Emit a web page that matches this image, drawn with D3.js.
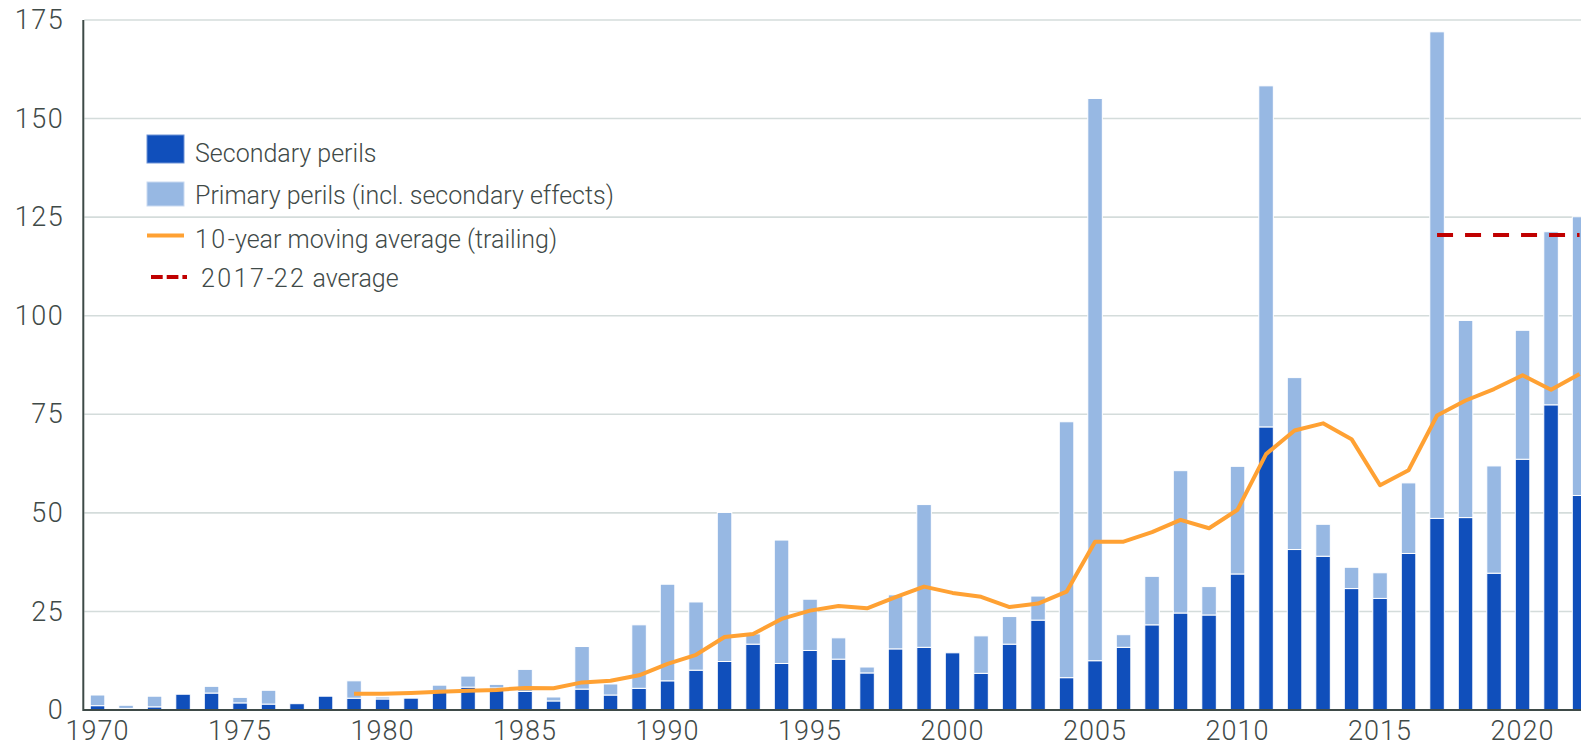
<!DOCTYPE html>
<html>
<head>
<meta charset="utf-8">
<script src="https://cdn.jsdelivr.net/npm/d3@7"></script>
<style>
  html, body { margin: 0; padding: 0; background: #ffffff; }
  svg { display: block; }
  text { font-family: Roboto, "Liberation Sans", Arial, sans-serif; font-weight: 300; fill: #3f4a48; }
</style>
</head>
<body>
<svg id="chart" width="1581" height="751"></svg>
<script>
// Insured losses by year (USD bn)
const years = d3.range(1970, 2023);

// Secondary perils (dark blue, bottom of each stack)
const secondary = [
  1.1, 0.4, 0.8, 4.0, 4.3, 1.8, 1.5, 1.6, 3.5, 3.0,
  2.8, 3.0, 4.7, 5.8, 5.6, 4.7, 2.3, 5.3, 3.8, 5.5,
  7.4, 10.1, 12.3, 16.7, 11.8, 15.1, 12.9, 9.4, 15.5, 15.9,
  14.5, 9.3, 16.7, 22.8, 8.2, 12.5, 15.9, 21.6, 24.6, 24.1,
  34.5, 71.8, 40.7, 39.0, 30.8, 28.3, 39.7, 48.6, 48.8, 34.7,
  63.6, 77.4, 54.4
];

// Primary perils incl. secondary effects (light blue, stacked on top)
const primary = [
  2.7, 0.8, 2.7, 0.0, 1.7, 1.4, 3.5, 0.0, 0.0, 4.4,
  0.5, 0.0, 1.6, 2.8, 0.9, 5.6, 1.0, 10.8, 2.8, 16.1,
  24.5, 17.3, 37.8, 2.6, 31.3, 13.0, 5.4, 1.5, 13.7, 36.2,
  0.0, 9.5, 7.0, 6.1, 64.9, 142.6, 3.2, 12.3, 36.1, 7.2,
  27.3, 86.5, 43.6, 8.1, 5.4, 6.5, 17.9, 123.4, 50.0, 27.2,
  32.7, 43.9, 70.7
];

// 10-year trailing moving average, starting 1979
const maYears = d3.range(1979, 2023);
const movingAvg = [
  4.1, 4.1, 4.3, 4.6, 4.9, 5.1, 5.6, 5.5, 7.0, 7.4,
  8.8, 11.7, 14.0, 18.5, 19.3, 23.1, 25.2, 26.4, 25.8, 28.6,
  31.3, 29.7, 28.7, 26.1, 27.0, 30.0, 42.7, 42.7, 45.1, 48.2,
  46.1, 50.8, 64.9, 70.9, 72.7, 68.7, 57.0, 60.8, 74.7, 78.5,
  81.4, 84.9, 81.2, 85.2
];

// 2017-22 average level
const avgYears = [2017, 2022];
const avgValue = 120.5;

const yTicks = [0, 25, 50, 75, 100, 125, 150, 175];
const xTicks = [1970, 1975, 1980, 1985, 1990, 1995, 2000, 2005, 2010, 2015, 2020];

const legendItems = [
  { label: "Secondary perils", kind: "rect", color: "#104fbb" },
  { label: "Primary perils (incl. secondary effects)", kind: "rect", color: "#97b8e3" },
  { label: "10-year moving average (trailing)", kind: "line", color: "#ffa133" },
  { label: "2017-22 average", kind: "dash", color: "#c00000" }
];

const W = 1581, H = 751;
const plotLeft = 83.3, plotTop = 20, plotBottom = 710;
const step = 28.5;

const svg = d3.select("#chart");

const x = d3.scaleBand()
  .domain(years)
  .range([plotLeft, plotLeft + step * years.length])
  .paddingInner(0.49)
  .paddingOuter(0.245);

const y = d3.scaleLinear().domain([0, 175]).range([plotBottom, plotTop]);

const cx = yr => x(yr) + x.bandwidth() / 2;

// Horizontal gridlines
svg.append("g")
  .selectAll("line")
  .data(yTicks.filter(v => v > 0))
  .join("line")
  .attr("x1", plotLeft + 1)
  .attr("x2", W)
  .attr("y1", d => y(d))
  .attr("y2", d => y(d))
  .attr("stroke", "#d4dcdb")
  .attr("stroke-width", 1.6);

// Stacked bars
const rows = years.map((yr, i) => ({ year: yr, sec: secondary[i], pri: primary[i] }));
const bars = svg.append("g");
bars.selectAll("rect.sec")
  .data(rows)
  .join("rect")
  .attr("class", "sec")
  .attr("x", d => x(d.year))
  .attr("width", x.bandwidth())
  .attr("y", d => y(d.sec))
  .attr("height", d => y(0) - y(d.sec))
  .attr("fill", "#104fbb")
  .attr("stroke", "#ffffff")
  .attr("stroke-width", 1);
bars.selectAll("rect.pri")
  .data(rows.filter(d => d.pri > 0))
  .join("rect")
  .attr("class", "pri")
  .attr("x", d => x(d.year))
  .attr("width", x.bandwidth())
  .attr("y", d => y(d.sec + d.pri))
  .attr("height", d => y(d.sec) - y(d.sec + d.pri))
  .attr("fill", "#97b8e3")
  .attr("stroke", "#ffffff")
  .attr("stroke-width", 1);

// Baseline and left axis line
svg.append("line")
  .attr("x1", plotLeft).attr("x2", W)
  .attr("y1", y(0)).attr("y2", y(0))
  .attr("stroke", "#3e4a47").attr("stroke-width", 2);
svg.append("line")
  .attr("x1", plotLeft).attr("x2", plotLeft)
  .attr("y1", y(175)).attr("y2", y(0) + 1)
  .attr("stroke", "#3e4a47").attr("stroke-width", 2);

// Y axis labels
const yAxis = svg.append("g")
  .attr("transform", `translate(${plotLeft},0)`)
  .call(d3.axisLeft(y).tickValues(yTicks).tickSize(0).tickPadding(19));
yAxis.select(".domain").remove();
yAxis.selectAll("text")
  .attr("font-size", 27)
  .attr("letter-spacing", 1.5)
  .attr("fill", "#3f4a48")
  .style("font-family", null);

// X axis labels
const xAxis = svg.append("g")
  .attr("transform", `translate(0,${plotBottom})`)
  .call(d3.axisBottom(x).tickValues(xTicks).tickSize(0).tickPadding(11));
xAxis.select(".domain").remove();
xAxis.selectAll("text")
  .attr("font-size", 27)
  .attr("letter-spacing", 1)
  .attr("fill", "#3f4a48")
  .style("font-family", null);

// 10-year moving average line
const line = d3.line()
  .x((d, i) => cx(maYears[i]))
  .y(d => y(d));
svg.append("path")
  .datum(movingAvg)
  .attr("d", line)
  .attr("fill", "none")
  .attr("stroke", "#ffa133")
  .attr("stroke-width", 4)
  .attr("stroke-linejoin", "round");

// 2017-22 average (dashed)
svg.append("line")
  .attr("x1", cx(avgYears[0]))
  .attr("x2", cx(avgYears[1]))
  .attr("y1", y(avgValue))
  .attr("y2", y(avgValue))
  .attr("stroke", "#c00000")
  .attr("stroke-width", 4)
  .attr("stroke-dasharray", "16 12");

// Legend
const legend = svg.append("g");
const rowY = [149, 194, 235.5, 277];
const textY = [161.5, 204, 247.5, 286.5];
const swatchH = [28, 24];
legendItems.forEach((item, i) => {
  const g = legend.append("g");
  if (item.kind === "rect") {
    g.append("rect")
      .attr("x", 147).attr("width", 37)
      .attr("y", rowY[i] - swatchH[i] / 2).attr("height", swatchH[i])
      .attr("fill", item.color)
      .attr("stroke", i === 0 ? "#6f93d6" : "#c9daf1")
      .attr("stroke-width", 1);
  } else if (item.kind === "line") {
    g.append("line")
      .attr("x1", 147).attr("x2", 184)
      .attr("y1", rowY[i]).attr("y2", rowY[i])
      .attr("stroke", item.color).attr("stroke-width", 4);
  } else {
    g.append("line")
      .attr("x1", 151).attr("x2", 187)
      .attr("y1", rowY[i]).attr("y2", rowY[i])
      .attr("stroke", item.color).attr("stroke-width", 4)
      .attr("stroke-dasharray", "11.7 4");
  }
  const t = g.append("text")
    .attr("x", i === 3 ? 201 : 195)
    .attr("y", textY[i])
    .attr("font-size", 25);
  // digits are set slightly wider than letters
  item.label.split(/(\d+)/).filter(s => s.length).forEach(part => {
    const span = t.append("tspan").text(part);
    if (/^\d+$/.test(part)) span.attr("letter-spacing", 2.5);
  });
});
</script>
</body>
</html>
